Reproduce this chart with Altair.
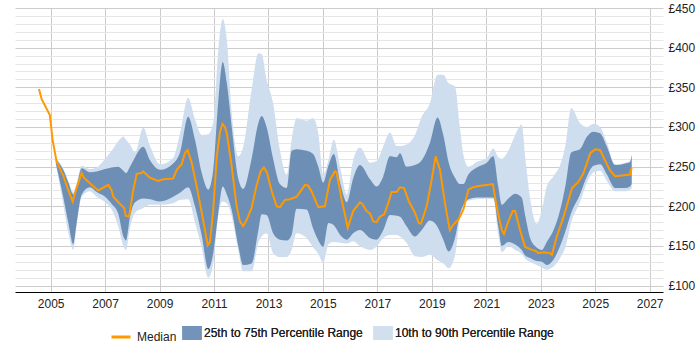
import altair as alt
import pandas as pd

# Median day rate (GBP) through time
median_years = [
    2004.57, 2004.67, 2004.97, 2005.07, 2005.22, 2005.46, 2005.65, 2005.81, 2005.95, 2006.14,
    2006.22, 2006.44, 2006.75, 2007.12, 2007.24, 2007.30, 2007.55, 2007.70, 2007.76, 2007.88,
    2008.03, 2008.16, 2008.34, 2008.40, 2008.65, 2008.95, 2009.14, 2009.50, 2009.63, 2009.81,
    2009.93, 2010.03, 2010.18, 2010.36, 2010.55, 2010.77, 2010.85, 2010.97, 2011.10, 2011.22,
    2011.31, 2011.40, 2011.47, 2011.65, 2011.83, 2011.95, 2012.07, 2012.20, 2012.38, 2012.56,
    2012.71, 2012.83, 2012.95, 2013.12, 2013.30, 2013.42, 2013.61, 2013.79, 2014.03, 2014.22,
    2014.34, 2014.46, 2014.58, 2014.83, 2015.07, 2015.26, 2015.44, 2015.50, 2015.69, 2015.85,
    2015.91, 2016.11, 2016.36, 2016.45, 2016.60, 2016.73, 2016.85, 2016.97, 2017.09, 2017.25,
    2017.40, 2017.52, 2017.71, 2017.83, 2017.98, 2018.16, 2018.38, 2018.52, 2018.60, 2018.81,
    2018.97, 2019.14, 2019.30, 2019.48, 2019.66, 2019.79, 2019.97, 2020.16, 2020.34, 2020.52,
    2020.77, 2021.02, 2021.24, 2021.38, 2021.57, 2021.65, 2021.81, 2021.97, 2022.06, 2022.24,
    2022.42, 2022.61, 2022.79, 2022.92, 2023.10, 2023.34, 2023.41, 2023.59, 2023.84, 2024.02,
    2024.15, 2024.39, 2024.57, 2024.82, 2025.00, 2025.18, 2025.36, 2025.55, 2025.73, 2025.98,
    2026.28, 2026.34,
]
median_values = [
    348, 335, 315, 284, 256, 239, 220, 206, 223, 242,
    236, 229, 220, 227, 220, 212, 203, 198, 188, 187,
    220, 241, 242, 244, 236, 232, 234, 235, 246, 253,
    267, 271, 255, 226, 192, 151, 155, 195, 263, 294,
    304, 300, 292, 250, 200, 181, 175, 183, 198, 226,
    244, 249, 242, 219, 200, 199, 208, 209, 212, 221,
    227, 226, 219, 199, 200, 234, 244, 243, 208, 183,
    173, 194, 205, 203, 194, 191, 181, 180, 187, 190,
    204, 218, 218, 224, 223, 206, 192, 179, 178, 200,
    229, 263, 246, 204, 170, 177, 183, 196, 221, 224,
    226, 227, 228, 200, 170, 165, 181, 194, 194, 170,
    149, 146, 144, 141, 142, 141, 139, 162, 187, 208,
    223, 231, 242, 267, 272, 271, 258, 245, 238, 239,
    240, 249,
]

# Percentile bands on a shared time grid
band_years = [
    2005.19, 2005.46, 2005.65, 2005.83, 2005.95, 2006.14, 2006.44, 2006.69, 2007.00, 2007.24,
    2007.48, 2007.67, 2007.77, 2007.91, 2008.10, 2008.40, 2008.65, 2009.02, 2009.50, 2009.75,
    2010.05, 2010.30, 2010.55, 2010.79, 2010.97, 2011.16, 2011.32, 2011.47, 2011.65, 2011.89,
    2012.07, 2012.38, 2012.63, 2012.75, 2012.93, 2013.17, 2013.42, 2013.67, 2013.85, 2014.03,
    2014.40, 2014.64, 2014.83, 2015.01, 2015.20, 2015.40, 2015.63, 2015.88, 2016.11, 2016.36,
    2016.73, 2016.97, 2017.22, 2017.46, 2017.71, 2017.83, 2018.07, 2018.38, 2018.63, 2018.93,
    2019.21, 2019.42, 2019.62, 2019.85, 2020.03, 2020.16, 2020.34, 2020.65, 2021.02, 2021.26,
    2021.44, 2021.57, 2021.81, 2022.06, 2022.30, 2022.43, 2022.61, 2022.85, 2023.04, 2023.22,
    2023.47, 2023.71, 2023.90, 2024.12, 2024.44, 2024.70, 2024.94, 2025.18, 2025.43, 2025.73,
    2026.10, 2026.28, 2026.34,
]
p10 = [
    253, 203, 166, 145, 175, 212, 219, 212, 205, 196,
    175, 150, 145, 172, 192, 198, 202, 202, 204, 208,
    209, 180, 147, 110, 128, 190, 206, 204, 187, 145,
    118, 118, 154, 162, 166, 141, 136, 136, 145, 166,
    160, 148, 140, 129, 152, 155, 154, 153, 156, 150,
    145, 149, 160, 164, 164, 162, 154, 137, 136, 139,
    132, 128, 122, 138, 185, 200, 207, 209, 210, 209,
    165, 142, 150, 145, 140, 134, 130, 126, 123, 120,
    124, 135, 148, 180, 205, 230, 243, 245, 232, 219,
    219, 221, 222,
]
p25 = [
    254, 212, 179, 152, 178, 215, 224, 218, 212, 203,
    191, 162, 157, 186, 205, 210, 209, 206, 212, 217,
    224, 200, 163, 121, 141, 192, 225, 215, 195, 150,
    126, 128, 170, 190, 189, 166, 158, 157, 164, 197,
    196, 172, 157, 149, 179, 176, 164, 158, 166, 170,
    160, 158, 170, 189, 188, 187, 175, 162, 170, 182,
    174, 158, 143, 160, 190, 202, 209, 211, 211, 211,
    175, 150, 155, 152, 145, 138, 135, 131, 130, 126,
    133, 150, 168, 192, 215, 238, 251, 253, 240, 223,
    223, 225, 228,
]
p75 = [
    259, 246, 230, 215, 225, 248, 243, 244, 247, 249,
    250, 245, 242, 250, 262, 275, 258, 246, 254, 268,
    313, 284, 242, 221, 246, 334, 382, 355, 300, 235,
    222, 260, 305, 314, 300, 260, 228, 223, 270, 272,
    270, 266, 250, 230, 251, 266, 230, 205, 235, 252,
    234, 225, 238, 263, 262, 267, 250, 252, 258, 280,
    312, 290, 255, 236, 228, 228, 240, 249, 255, 263,
    225, 202, 210, 216, 211, 188, 160, 148, 145, 155,
    170, 195, 225, 268, 272, 288, 294, 292, 275, 252,
    254, 256, 265,
]
p90 = [
    261, 248, 232, 218, 228, 251, 247, 249, 260, 270,
    282, 288, 284, 278, 268, 299, 276, 253, 261, 292,
    337, 310, 290, 291, 306, 398, 436, 410, 318, 263,
    275, 347, 393, 392, 360, 330, 271, 240, 284, 311,
    308, 311, 292, 240, 258, 284, 250, 215, 258, 274,
    255, 257, 276, 293, 276, 276, 278, 290, 313, 330,
    366, 366, 355, 351, 300, 265, 250, 256, 261, 273,
    262, 260, 270, 290, 303, 262, 210, 178, 195, 225,
    238, 252, 276, 324, 305, 300, 304, 300, 280, 253,
    255, 257, 266,
]

MEDIAN = "Median"
INNER = "25th to 75th Percentile Range"
OUTER = "10th to 90th Percentile Range"

median_df = pd.DataFrame({"year": median_years, "value": median_values, "series": MEDIAN})
bands = pd.DataFrame({"year": band_years, "p10": p10, "p25": p25, "p75": p75, "p90": p90})
outer_df = bands.assign(series=OUTER)
inner_df = bands.assign(series=INNER)

FONT = "Liberation Sans"
TEXT = "#222222"

x_enc = alt.X(
    "year:Q",
    scale=alt.Scale(domain=[2003.69, 2027.49], nice=False, zero=False),
    axis=alt.Axis(
        values=list(range(2005, 2028, 2)),
        format="d",
        title=None,
        ticks=False,
        labelPadding=6,
        labelFontSize=12,
        labelColor=TEXT,
        domainColor="#000000",
        domainWidth=1,
        gridColor="#cccccc",
        labelFlush=False,
    ),
)

y_axis = alt.Axis(
    orient="right",
    values=list(range(100, 451, 10)),
    labelExpr="datum.value % 50 === 0 ? '£' + datum.value : ''",
    title=None,
    ticks=False,
    domain=False,
    labelPadding=5,
    labelFontSize=12,
    labelColor=TEXT,
    gridColor={"condition": {"test": "datum.value % 50 === 0", "value": "#cccccc"}, "value": "#e6e6e6"},
)
y_scale = alt.Scale(domain=[92, 450], nice=False, zero=False)

band_fill = alt.Fill(
    "series:N",
    scale=alt.Scale(domain=[INNER, OUTER], range=["#6d8fb6", "#cfdeee"]),
    legend=alt.Legend(
        orient="none",
        legendX=170,
        legendY=318,
        direction="horizontal",
        title=None,
        symbolType="M-1.4,-1L1.4,-1L1.4,1L-1.4,1Z",
        symbolSize=196,
        symbolStrokeWidth=0,
        symbolOpacity=0.8,
        labelFontSize=12,
        labelColor=TEXT,
        labelOffset=5,
        columnPadding=10,
        padding=0,
    ),
)

outer_area = alt.Chart(outer_df).mark_area(interpolate="monotone", opacity=1).encode(
    x=x_enc,
    y=alt.Y("p10:Q", scale=y_scale, axis=y_axis),
    y2="p90:Q",
    fill=band_fill,
)

inner_area = alt.Chart(inner_df).mark_area(interpolate="monotone", opacity=1).encode(
    x=x_enc,
    y=alt.Y("p25:Q", scale=y_scale, axis=y_axis),
    y2="p75:Q",
    fill=band_fill,
)

median_line = alt.Chart(median_df).mark_line(strokeWidth=2, interpolate="linear").encode(
    x=x_enc,
    y=alt.Y("value:Q", scale=y_scale, axis=y_axis),
    stroke=alt.Stroke(
        "series:N",
        scale=alt.Scale(domain=[MEDIAN], range=["#ff9900"]),
        legend=alt.Legend(
            orient="none",
            legendX=95,
            legendY=318,
            direction="horizontal",
            title=None,
            symbolType="stroke",
            symbolSize=361,
            symbolStrokeWidth=3,
            labelFontSize=12,
            labelColor=TEXT,
            labelOffset=5,
            padding=0,
        ),
    ),
)

chart = (
    alt.layer(outer_area, inner_area, median_line)
    .resolve_scale(fill="independent", stroke="independent")
    .properties(
        width=648,
        height=284,
        autosize=alt.AutoSizeParams(type="none"),
        padding={"left": 15, "top": 8, "right": 37, "bottom": 58},
        background="white",
    )
    .configure_view(stroke=None)
    .configure_axis(labelFont=FONT, gridWidth=1)
    .configure_legend(labelFont=FONT)
)

chart.save("out.html", embed_options={"renderer": "svg", "actions": False})
